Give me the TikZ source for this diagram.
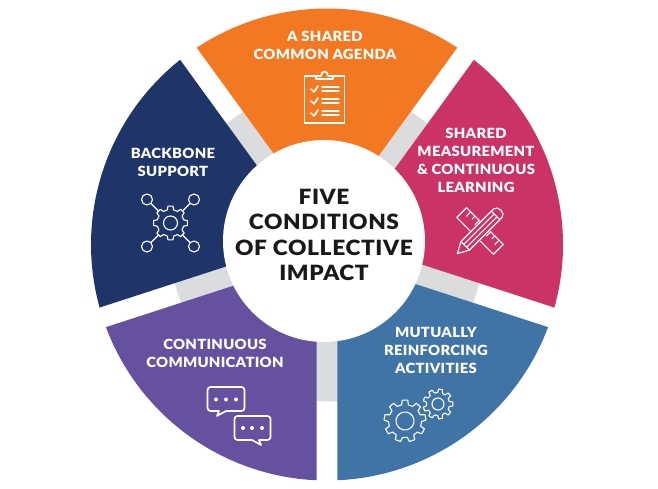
\documentclass[tikz,border=0pt]{standalone}
\usepackage{fontspec}
\setmainfont{Lato}[BoldFont={Lato Bold}]
\newfontfamily\labelfont{Lato Black}[FakeStretch=1.06,LetterSpace=2]
\newfontfamily\titlefont{Lato Black}[FakeStretch=1.08,LetterSpace=3]
\definecolor{cOrange}{HTML}{F47721}
\definecolor{cMagenta}{HTML}{CB3366}
\definecolor{cBlue}{HTML}{4174A6}
\definecolor{cPurple}{HTML}{6551A0}
\definecolor{cNavy}{HTML}{1F3468}
\definecolor{cGray}{HTML}{DBDCDE}
\tikzset{
  seglabel/.style={text=white,align=center,font=\labelfont\fontsize{14}{18}\selectfont,inner sep=0pt},
  titlelabel/.style={text=black!90,align=center,font=\titlefont\fontsize{21}{25.5}\selectfont,inner sep=0pt},
  icon/.style={draw=white,line width=1.1pt,line join=round,line cap=round},
  iconthick/.style={draw=white,line width=1.7pt,line join=round,line cap=round}
}
\newcommand{\gearicon}[7]{% x,y(top),outer,root,inner,teeth,rot
  \begin{scope}[shift={(#1,489-#2)},rotate=#7]
    \pgfmathsetmacro{\stepang}{360/#6}
    \pgfmathsetmacro{\wa}{\stepang*0.30}
    \pgfmathsetmacro{\wb}{\stepang*0.19}
    \draw[icon] (-\wa:#4pt)
      \foreach \k in {1,...,#6}{
        -- ({(\k-1)*\stepang-\wa}:#4pt)
        -- ({(\k-1)*\stepang-\wb}:#3pt)
        -- ({(\k-1)*\stepang+\wb}:#3pt)
        -- ({(\k-1)*\stepang+\wa}:#4pt)
      } -- cycle;
    \draw[icon] (0,0) circle[radius=#5pt];
  \end{scope}
}
\begin{document}
\begin{tikzpicture}[x=1pt,y=1pt]
\useasboundingbox (0,0) rectangle (658,489);
\fill[white] (0,0) rectangle (658,489);
\coordinate (C) at (327,244.5);
% gray ring behind the gaps
\fill[cGray] (C) circle[radius=157pt];
% sectors
\foreach \a/\col in {90/cOrange,18/cMagenta,-54/cBlue,-126/cPurple,162/cNavy}{
  \fill[\col,shift={(C)},rotate=\a-90]
    (90:17.5) -- (56.5:236pt) arc[start angle=56.5,end angle=123.5,radius=236pt] -- cycle;
}
% centre disc
\fill[white] (324,248) circle[radius=101pt];
\node[titlelabel] (title) at (324,254) {FIVE\\CONDITIONS\\OF COLLECTIVE\\IMPACT};
% labels
\node[seglabel] (l1) at (325,443.5) {A SHARED\\COMMON AGENDA};
\node[seglabel] (l2) at (476,328.5) {SHARED\\MEASUREMENT\\\& CONTINUOUS\\LEARNING};
\node[seglabel] (l3) at (436,138.5) {MUTUALLY\\REINFORCING\\ACTIVITIES};
\node[seglabel] (l4) at (215,135.5) {CONTINUOUS\\COMMUNICATION};
\node[seglabel] (l5) at (173,326.5) {BACKBONE\\SUPPORT};
% clipboard
\begin{scope}[shift={(0,489)},y=-1pt]
  \draw[iconthick] (316,76) -- (304.5,76) -- (304.5,123) -- (344.5,123) -- (344.5,76) -- (333,76);
  \draw[iconthick] (316,76) -- (316,79) -- (333,79) -- (333,76) -- (328,76) .. controls (328,70) and (321,70) .. (321,76) -- cycle;
  \foreach \yy in {89,101,113}{
    \draw[iconthick] (311,\yy) -- (314,\yy+3) -- (318,\yy-3);
    \draw[icon] (322,\yy-2) -- (339,\yy-2);
    \draw[icon] (322,\yy+2) -- (339,\yy+2);
  }
  % ruler and pencil
  \begin{scope}[shift={(480,231)}]
    \draw[icon,rotate=-45] (-26,-7) rectangle (26,7);
    \foreach \t/\l in {-20/6,-14/4,-8/6,8/6,14/4,20/6}{\draw[icon,rotate=-45] (\t,-7) -- (\t,-7+\l);}
    \fill[cMagenta,rotate=45] (-24,-7) rectangle (26,7);
    \draw[icon,rotate=45] (-21,-6) -- (25,-6) .. controls (31,-6) and (31,6) .. (25,6) -- (-21,6) -- (-32,0) -- cycle;
    \draw[icon,rotate=45] (-21,-6) -- (-21,6);
    \draw[icon,rotate=45] (-21,-2) -- (22,-2) (-21,2) -- (22,2) (22,-6) -- (22,6);
  \end{scope}
  % bubbles
  \draw[iconthick,rounded corners=3pt] (207.5,387) rectangle (244.5,411);
  \fill[cPurple] (219,408) rectangle (226,413);
  \draw[iconthick] (217,416) -- (226,411) (217,416) -- (219,411);
  \foreach \xx in {216,226,236}{\fill[white] (\xx,399.5) circle[radius=2pt];}
  \draw[iconthick,rounded corners=3pt] (234.5,416) rectangle (270.5,440);
  \fill[cPurple] (252,437) rectangle (259,442);
  \draw[iconthick] (261,445) -- (252,440) (261,445) -- (259,440);
  \foreach \xx in {243,252,262}{\fill[white] (\xx,428) circle[radius=2pt];}
  % network circles and spokes
  \foreach \sx/\sy in {-1/-1,1/-1,-1/1,1/1}{
    \draw[icon] (170.5+\sx*23.5,223+\sy*23.5) circle[radius=5.5pt];
    \draw[icon] (170.5+\sx*19.5,223+\sy*19.5) -- (170.5+\sx*12.5,223+\sy*12.5);
  }
\end{scope}
\gearicon{170.5}{223}{17}{13.5}{7}{8}{0}
\gearicon{405}{421}{21}{16.5}{9}{9}{10}
\gearicon{438}{404}{15}{11.5}{6}{9}{0}
\end{tikzpicture}
\end{document}
